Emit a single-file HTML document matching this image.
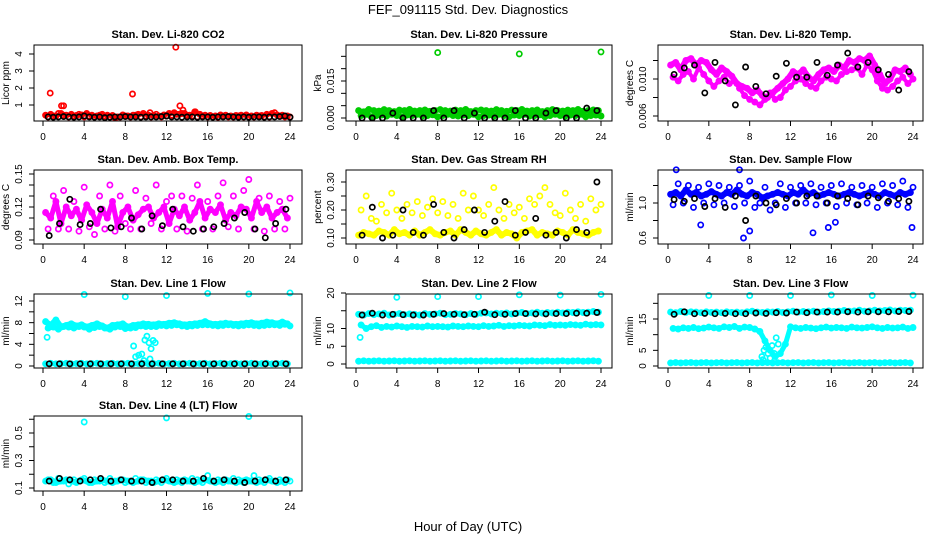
<!DOCTYPE html>
<html><head><meta charset="utf-8"><style>
body{margin:0;background:#fff;}
svg{display:block;font-family:"Liberation Sans",sans-serif;}
</style></head><body>
<svg id="c" width="936" height="540" viewBox="0 0 936 540">
<text x="468" y="14" text-anchor="middle" font-size="13">FEF_091115  Std. Dev. Diagnostics</text>
<text x="468" y="531" text-anchor="middle" font-size="13">Hour of Day (UTC)</text>
</svg>
<script>
const H48=[0.25,0.75,1.25,1.75,2.25,2.75,3.25,3.75,4.25,4.75,5.25,5.75,6.25,6.75,7.25,7.75,8.25,8.75,9.25,9.75,10.25,10.75,11.25,11.75,12.25,12.75,13.25,13.75,14.25,14.75,15.25,15.75,16.25,16.75,17.25,17.75,18.25,18.75,19.25,19.75,20.25,20.75,21.25,21.75,22.25,22.75,23.25,23.75];
const H48b=[0.5,1,1.5,2,2.5,3,3.5,4,4.5,5,5.5,6,6.5,7,7.5,8,8.5,9,9.5,10,10.5,11,11.5,12,12.5,13,13.5,14,14.5,15,15.5,16,16.5,17,17.5,18,18.5,19,19.5,20,20.5,21,21.5,22,22.5,23,23.5,24];
const H24=[0.6,1.6,2.6,3.6,4.6,5.6,6.6,7.6,8.6,9.6,10.6,11.6,12.6,13.6,14.6,15.6,16.6,17.6,18.6,19.6,20.6,21.6,22.6,23.6];
// CO2
const co2A=[0.4,0.45,0.35,0.5,0.4,0.45,0.38,0.42,0.5,0.4,0.35,0.45,0.4,0.38,0.3,0.42,0.35,0.4,0.45,0.5,0.4,0.38,0.35,0.42,0.5,0.55,0.45,0.5,0.4,0.6,0.45,0.4,0.38,0.35,0.42,0.4,0.35,0.38,0.4,0.42,0.35,0.4,0.38,0.45,0.5,0.42,0.4,0.35];
const co2B=[0.3,0.35,0.5,0.4,0.3,0.35,0.45,0.3,0.35,0.3,0.4,0.35,0.3,0.25,0.3,0.35,0.3,0.4,0.3,0.35,0.3,0.45,0.3,0.35,0.4,0.45,0.5,0.4,0.35,0.3,0.35,0.3,0.3,0.28,0.35,0.3,0.3,0.35,0.3,0.3,0.3,0.35,0.3,0.3,0.55,0.35,0.3,0.3];
const co2K=[0.3,0.28,0.3,0.32,0.3,0.28,0.3,0.35,0.3,0.28,0.3,0.26,0.28,0.3,0.3,0.32,0.3,0.3,0.28,0.3,0.3,0.3,0.32,0.35,0.3,0.3,0.28,0.3,0.3,0.28,0.3,0.3,0.28,0.3,0.3,0.32,0.3,0.28,0.3,0.28,0.3,0.3,0.28,0.3,0.3,0.32,0.35,0.28];
const co2OutX=[0.7,1.8,2.0,8.7,12.9,13.3,13.6,14.8,10.4];
const co2OutY=[1.7,0.95,0.95,1.65,4.4,0.95,0.7,0.6,0.55];
// Pressure
const prA=[0.003,0.0025,0.0035,0.003,0.0028,0.0034,0.003,0.0026,0.0032,0.003,0.0035,0.0028,0.003,0.0033,0.0027,0.003,0.0034,0.003,0.0028,0.0032,0.003,0.0035,0.0026,0.003,0.0033,0.003,0.0028,0.0034,0.003,0.0027,0.0032,0.003,0.0035,0.0028,0.003,0.0033,0.0026,0.003,0.0034,0.003,0.0028,0.0032,0.003,0.0035,0.0027,0.003,0.0033,0.003];
const prB=[0.001,0.0015,0.0005,0.001,0.0012,0.0008,0.0015,0.001,0.0005,0.0012,0.001,0.0015,0.0008,0.001,0.0013,0.0005,0.001,0.0015,0.001,0.0008,0.0012,0.001,0.0015,0.0005,0.001,0.0012,0.0008,0.0015,0.001,0.0005,0.0012,0.001,0.0015,0.0008,0.001,0.0013,0.0005,0.001,0.0015,0.001,0.0008,0.0012,0.001,0.0015,0.0005,0.001,0.0012,0.0008];
const prC=[0.002,0.0022,0.0018,0.002,0.0024,0.002,0.0018,0.0022,0.002,0.0019,0.0021,0.002,0.0023,0.0018,0.002,0.0022,0.002,0.0019,0.0021,0.002,0.0024,0.0018,0.002,0.0022];
const prK=[0.000,0.000,0.000,0.002,0.000,0.000,0.000,0.003,0.000,0.003,0.000,0.002,0.000,0.000,0.000,0.003,0.000,0.000,0.002,0.003,0.000,0.000,0.004,0.003];
const prOutX=[8,16,24];
const prOutY=[0.0265,0.026,0.0268];
// Li-820 temp
const tpA=[0.0115,0.0118,0.011,0.012,0.0122,0.0115,0.012,0.0118,0.011,0.0105,0.0112,0.0108,0.0103,0.0095,0.0092,0.009,0.0085,0.0088,0.0082,0.008,0.0085,0.009,0.0095,0.01,0.0108,0.0105,0.011,0.0102,0.0098,0.0105,0.011,0.0112,0.0108,0.0115,0.0112,0.012,0.0118,0.0122,0.012,0.0125,0.0115,0.0105,0.0095,0.01,0.011,0.0108,0.0112,0.0105];
const tpB=[0.0102,0.0098,0.0105,0.0108,0.01,0.0112,0.0105,0.0098,0.0092,0.0098,0.0102,0.0095,0.0098,0.009,0.0082,0.0078,0.0075,0.0072,0.0078,0.0085,0.0078,0.008,0.0088,0.0092,0.0098,0.01,0.0095,0.0092,0.009,0.0098,0.0102,0.01,0.0098,0.0105,0.0108,0.011,0.0112,0.0105,0.0115,0.011,0.0098,0.009,0.0088,0.0092,0.0098,0.0102,0.0095,0.01];
const tpK=[0.0105,0.0112,0.0115,0.0085,0.0118,0.0098,0.0072,0.0113,0.0092,0.0084,0.0103,0.0117,0.0102,0.0102,0.0118,0.0104,0.0115,0.0128,0.0113,0.0118,0.011,0.0105,0.0088,0.0108];
// Amb box temp
const abA=[0.115,0.11,0.125,0.105,0.12,0.112,0.118,0.108,0.122,0.115,0.105,0.118,0.11,0.125,0.102,0.115,0.12,0.108,0.113,0.118,0.12,0.11,0.115,0.12,0.105,0.118,0.112,0.12,0.108,0.115,0.125,0.11,0.118,0.115,0.122,0.108,0.115,0.112,0.12,0.118,0.11,0.125,0.115,0.12,0.11,0.115,0.118,0.11];
const abB=[0.1,0.13,0.1,0.135,0.1,0.125,0.098,0.138,0.102,0.095,0.13,0.1,0.14,0.098,0.13,0.105,0.1,0.135,0.1,0.128,0.105,0.14,0.1,0.125,0.13,0.1,0.13,0.098,0.128,0.14,0.1,0.125,0.1,0.13,0.142,0.102,0.13,0.1,0.135,0.145,0.1,0.128,0.098,0.13,0.1,0.125,0.1,0.128];
const abK=[0.094,0.105,0.127,0.104,0.105,0.118,0.101,0.102,0.11,0.1,0.112,0.103,0.118,0.102,0.098,0.1,0.102,0.105,0.11,0.115,0.1,0.092,0.105,0.118];
// Gas stream RH
const rhA=[0.11,0.12,0.115,0.11,0.125,0.12,0.11,0.13,0.115,0.12,0.11,0.125,0.11,0.12,0.13,0.115,0.11,0.12,0.125,0.11,0.13,0.12,0.11,0.125,0.115,0.11,0.12,0.13,0.11,0.12,0.115,0.1,0.12,0.125,0.13,0.11,0.12,0.115,0.11,0.125,0.12,0.11,0.13,0.12,0.115,0.11,0.12,0.125];
const rhB=[0.2,0.25,0.17,0.16,0.22,0.19,0.26,0.2,0.17,0.22,0.19,0.23,0.18,0.21,0.24,0.19,0.23,0.18,0.22,0.17,0.26,0.2,0.25,0.2,0.18,0.22,0.28,0.2,0.17,0.22,0.19,0.21,0.17,0.24,0.22,0.25,0.28,0.22,0.19,0.18,0.26,0.2,0.17,0.22,0.16,0.24,0.2,0.22];
const rhK=[0.11,0.21,0.1,0.11,0.2,0.12,0.11,0.22,0.12,0.1,0.13,0.2,0.12,0.16,0.23,0.11,0.12,0.17,0.11,0.12,0.1,0.13,0.12,0.3];
// Sample flow
const sfA=[1.1,1.12,1.08,1.15,1.1,1.12,1.08,1.1,1.13,1.1,1.08,1.12,1.1,1.15,1.1,1.08,1.12,1.1,1.06,1.08,1.1,1.12,1.1,1.08,1.12,1.1,1.15,1.1,1.12,1.08,1.1,1.12,1.1,1.08,1.1,1.12,1.1,1.08,1.1,1.12,1.1,1.08,1.12,1.1,1.08,1.12,1.1,1.12];
const sfB=[0.98,1.22,1.0,1.2,0.95,1.18,1.0,1.22,0.98,1.2,1.0,1.18,0.96,1.2,1.0,1.25,0.95,1.0,1.18,0.92,1.0,1.22,0.95,1.18,1.0,1.2,1.0,1.22,0.98,1.18,1.0,1.2,0.96,1.22,1.0,1.18,0.98,1.2,1.0,1.18,0.95,1.22,1.0,1.2,0.98,1.25,0.95,1.18];
const sfK=[1.04,1.02,1.05,0.96,1.05,0.95,1.08,0.8,1.08,1.0,0.98,1.05,1.0,1.08,1.08,1.0,1.08,1.05,0.98,1.08,1.06,1.02,1.05,1.02];
const sfOutX=[0.8,3.2,7.4,7.0,8.0,14.2,15.7,16.4,23.9];
const sfOutY=[1.38,0.75,0.6,1.38,0.68,0.66,0.72,0.78,0.72];
// Line 1 flow
const l1A=[8.2,7.5,8.5,7.2,7.5,7.8,7.4,7.6,7.2,7.5,7.8,7.4,7.0,7.5,7.6,7.8,7.2,7.5,7.6,7.8,7.7,7.6,7.8,7.7,7.9,8.0,7.8,7.6,7.7,7.8,7.9,8.2,7.8,7.7,7.8,7.9,7.8,7.7,7.8,7.9,8.0,7.8,7.9,8.1,8.0,7.8,8.1,7.8];
const l1B=[7.0,7.2,6.8,7.3,7.2,7.0,7.3,7.2,6.8,7.1,7.3,7.0,6.8,7.2,7.3,6.9,7.0,7.1,7.4,7.3,7.3,7.3,7.5,7.4,7.5,7.6,7.4,7.3,7.4,7.5,7.6,7.6,7.5,7.4,7.5,7.6,7.5,7.4,7.5,7.6,7.5,7.4,7.5,7.6,7.6,7.5,7.7,7.4];
const l1C=[0.4,0.5,0.4,0.45,0.5,0.4,0.45,0.5,0.4,0.45,0.5,0.4,0.45,0.5,0.4,0.45,0.5,0.4,0.45,0.5,0.4,0.45,0.5,0.4,0.45,0.5,0.4,0.45,0.5,0.4,0.45,0.5,0.4,0.45,0.5,0.4,0.45,0.5,0.4,0.45,0.5,0.4,0.45,0.5,0.4,0.45,0.5,0.4];
const l1K=[0.4,0.4,0.4,0.4,0.4,0.4,0.4,0.4,0.4,0.4,0.4,0.4,0.4,0.4,0.4,0.4,0.4,0.4,0.4,0.4,0.4,0.4,0.4,0.4];
const l1OutX=[4,8,12,16,20,24,0.4,8.8,9.0,9.3,9.6,9.9,10.1,10.3,10.5,10.7,10.9,10.4,9.8];
const l1OutY=[13.2,12.8,13.0,13.4,13.3,13.5,5.3,3.7,1.7,2.0,2.2,4.8,5.5,4.3,3.2,4.7,4.3,1.3,1.0];
// Line 2 flow
const l2A=[14,13.8,14.2,13.9,14.1,14.3,13.8,14,14.2,13.9,14.1,14,13.8,14.2,14,14.1,14.3,13.9,14,14.2,14.1,13.9,14.2,14,14.3,14.4,14.1,14.3,14.2,14.4,14.1,14.3,14.5,14.2,14.4,14.6,14.3,14.5,14.4,14.6,14.4,14.6,14.5,14.7,14.5,14.6,14.8,14.6];
const l2B=[11,10,10.5,10.8,10.3,10.6,10.4,10.7,10.5,10.3,10.6,10.5,10.4,10.7,10.5,10.6,10.5,10.4,10.7,10.6,10.5,10.7,10.6,10.5,10.8,10.6,10.7,10.9,10.6,10.8,10.7,10.9,10.8,10.7,11,10.9,10.8,11.1,10.9,11,10.9,11.1,11,10.9,11.2,11,11.1,11];
const l2C=[0.8,0.9,0.8,0.85,0.9,0.8,0.85,0.9,0.8,0.85,0.9,0.8,0.85,0.9,0.8,0.85,0.9,0.8,0.85,0.9,0.8,0.85,0.9,0.8,0.85,0.9,0.8,0.85,0.9,0.8,0.85,0.9,0.8,0.85,0.9,0.8,0.85,0.9,0.8,0.85,0.9,0.8,0.85,0.9,0.8,0.85,0.9,0.8];
const l2K=[13.8,14.3,13.8,14,13.9,13.8,13.8,14,14.2,14,13.9,14,14.6,13.9,14,14.2,14.2,14.1,14.1,14.2,14.2,14.3,14.3,14.5];
const l2OutX=[4,8,12,16,20,24,0.4];
const l2OutY=[18.8,19.0,19.0,19.5,19.4,19.6,7.5];
// Line 3 flow
const l3A=[17.2,17,17.4,17.1,17.3,17.2,17,17.3,17.1,17.2,17,17.3,17.1,17.2,17,17.3,17.5,17.2,17.1,17.3,17.2,17.4,17.1,17.3,17.5,17.2,17.4,17.3,17.5,17.2,17.4,17.6,17.4,17.5,17.7,17.5,17.6,17.8,17.5,17.6,17.8,17.6,17.7,17.9,17.6,17.8,17.7,17.8];
const l3B=[12,11.8,12.2,12,12.3,11.9,12.1,12.4,12.2,12,12.5,12.3,12.6,12,12.4,12.3,11.8,11,8,5,3,4,7,12.5,12.2,12,12.3,12.1,11.9,12.2,12.4,12.1,12.3,12.2,12,12.4,12.2,12.1,12.3,12.5,12.2,12,12.3,12.1,12.2,12.4,12,12.3];
const l3C=[1,1.1,1,1.05,1.1,1,1.05,1.1,1,1.05,1.1,1,1.05,1.1,1,1.05,1.1,1,1.05,1.1,1,1.05,1.1,1,1.05,1.1,1,1.05,1.1,1,1.05,1.1,1,1.05,1.1,1,1.05,1.1,1,1.05,1.1,1,1.05,1.1,1,1.05,1.1,1];
const l3K=[16.5,17.3,16.7,16.8,16.7,16.8,16.7,16.7,16.9,16.8,17,16.9,17.2,17,17.2,17.2,17.2,17.3,17.2,17.3,17.3,17.3,17.4,17.4];
const l3OutX=[4,8,12,16,20,24,9.2,9.4,9.6,9.8,10.0,10.2,10.6,10.8,9.3,10.4];
const l3OutY=[22.5,22.5,22.5,22.7,22.5,22.6,3,5,6,4,2.5,6.5,9,7,2,4];
// Line 4 flow
const l4A=[0.15,0.16,0.14,0.15,0.16,0.15,0.14,0.16,0.15,0.14,0.15,0.16,0.15,0.14,0.15,0.16,0.15,0.14,0.15,0.16,0.15,0.14,0.15,0.16,0.15,0.14,0.15,0.16,0.15,0.14,0.15,0.16,0.15,0.14,0.15,0.16,0.15,0.14,0.15,0.16,0.15,0.14,0.15,0.16,0.15,0.14,0.15,0.16];
const l4B=[0.16,0.14,0.17,0.15,0.13,0.16,0.15,0.17,0.14,0.16,0.15,0.14,0.17,0.15,0.16,0.14,0.15,0.17,0.16,0.14,0.15,0.16,0.14,0.17,0.15,0.16,0.14,0.15,0.17,0.16,0.14,0.19,0.15,0.16,0.14,0.15,0.17,0.16,0.14,0.15,0.19,0.16,0.14,0.17,0.15,0.16,0.14,0.15];
const l4K=[0.15,0.17,0.16,0.15,0.16,0.17,0.15,0.16,0.15,0.15,0.14,0.16,0.16,0.15,0.15,0.17,0.15,0.16,0.15,0.14,0.15,0.16,0.15,0.16];
const l4OutX=[4,12,20];
const l4OutY=[0.58,0.61,0.62];

const svg=document.getElementById('c');
const NS='http://www.w3.org/2000/svg';
function mk(tag,attrs,parent){const e=document.createElementNS(NS,tag);for(const k in attrs)e.setAttribute(k,attrs[k]);(parent||svg).appendChild(e);return e;}

const cols=[{l:34,r:302,x0:43,x24:290},{l:346,r:612,x0:356,x24:601},{l:658,r:923,x0:668,x24:913}];
const rows=[{t:45,b:121},{t:170,b:244},{t:294,b:368},{t:416,b:491}];
const CY='#00ffff';
// series: [color, x, y, bandWidth]
const panels=[
 {name:'co2',title:'Stan. Dev. Li-820 CO2',ylab:'Licor ppm',c:0,r:0,v1:1,p1:105,v2:4,p2:54,ticks:[1,2,3,4],labels:['1','2','3','4'],
  series:[['#ff0000',H48,co2A,4],['#ff0000',H48b,co2B,0],['#ff0000',co2OutX,co2OutY,0],['#000',H48b,co2K,0]]},
 {name:'pressure',title:'Stan. Dev. Li-820 Pressure',ylab:'kPa',c:1,r:0,v1:0,p1:118,v2:0.015,p2:81,ticks:[0,0.005,0.01,0.015,0.02,0.025],labels:['0.000','','','0.015','',''],
  series:[['#00cc00',H48,prA,5],['#00cc00',H48b,prB,5],['#00cc00',H24,prC,0],['#00cc00',prOutX,prOutY,0],['#000',H24,prK,0]]},
 {name:'li820-temp',title:'Stan. Dev. Li-820 Temp.',ylab:'degrees C',c:2,r:0,v1:0.006,p1:116,v2:0.01,p2:79,ticks:[0.006,0.008,0.01,0.012],labels:['0.006','','0.010',''],
  series:[['#ff00ff',H48,tpA,6],['#ff00ff',H48b,tpB,4],['#000',H24,tpK,0]]},
 {name:'amb-box-temp',title:'Stan. Dev. Amb. Box Temp.',ylab:'degrees C',c:0,r:1,v1:0.09,p1:240,v2:0.15,p2:174,ticks:[0.09,0.1,0.11,0.12,0.13,0.14,0.15],labels:['0.09','','','0.12','','','0.15'],
  series:[['#ff00ff',H48,abA,5],['#ff00ff',H48b,abB,0],['#000',H24,abK,0]]},
 {name:'gas-stream-rh',title:'Stan. Dev. Gas Stream RH',ylab:'percent',c:1,r:1,v1:0.1,p1:238,v2:0.3,p2:182,ticks:[0.1,0.15,0.2,0.25,0.3],labels:['0.10','','0.20','','0.30'],
  series:[['#ffff00',H48,rhA,6],['#ffff00',H48b,rhB,0],['#000',H24,rhK,0]]},
 {name:'sample-flow',title:'Stan. Dev. Sample Flow',ylab:'ml/min',c:2,r:1,v1:0.6,p1:238,v2:1.0,p2:203,ticks:[0.6,0.8,1.0,1.2],labels:['0.6','','1.0',''],
  series:[['#0000ff',H48,sfA,6],['#0000ff',H48b,sfB,0],['#0000ff',sfOutX,sfOutY,0],['#000',H24,sfK,0]]},
 {name:'line1-flow',title:'Stan. Dev. Line 1 Flow',ylab:'ml/min',c:0,r:2,v1:0,p1:366,v2:12,p2:301,ticks:[0,2,4,6,8,10,12,14],labels:['0','','4','','8','','12',''],
  series:[[CY,H48,l1A,6],[CY,H48b,l1B,5],[CY,H48,l1C,5],[CY,l1OutX,l1OutY,0],['#000',H24,l1K,0]]},
 {name:'line2-flow',title:'Stan. Dev. Line 2 Flow',ylab:'ml/min',c:1,r:2,v1:0,p1:364,v2:20,p2:293,ticks:[0,5,10,15,20],labels:['0','5','10','','20'],
  series:[[CY,H48,l2A,5],[CY,H48b,l2B,5],[CY,H48,l2C,5],[CY,l2OutX,l2OutY,0],['#000',H24,l2K,0]]},
 {name:'line3-flow',title:'Stan. Dev. Line 3 Flow',ylab:'ml/min',c:2,r:2,v1:0,p1:366,v2:15,p2:319,ticks:[0,5,10,15,20],labels:['0','5','','15',''],
  series:[[CY,H48,l3A,5],[CY,H48b,l3B,5],[CY,H48,l3C,5],[CY,l3OutX,l3OutY,0],['#000',H24,l3K,0]]},
 {name:'line4-flow',title:'Stan. Dev. Line 4 (LT) Flow',ylab:'ml/min',c:0,r:3,v1:0.1,p1:488,v2:0.5,p2:433,ticks:[0.1,0.2,0.3,0.4,0.5,0.6],labels:['0.1','','0.3','','0.5',''],
  series:[[CY,H48,l4A,6],[CY,H48b,l4B,0],[CY,l4OutX,l4OutY,0],['#000',H24,l4K,0]]}
];
const xTicks=[0,4,8,12,16,20,24];

panels.forEach(p=>{
  const C=cols[p.c],R=rows[p.r];
  const g=mk('g',{});
  
  
  const xs=h=>C.x0+(C.x24-C.x0)*h/24;
  const ys=v=>p.p1+(p.p2-p.p1)*(v-p.v1)/(p.v2-p.v1);
  const t=mk('text',{x:(C.l+C.r)/2,y:R.t-7,'text-anchor':'middle','font-size':11,'font-weight':'bold'},g);
  t.textContent=p.title;
  
  
  p.series.forEach((s,si)=>{
    const sg=mk('g',{fill:'none',stroke:s[0],'stroke-width':1.7},g);
    
    
    if(s[3]>0){
      const d=s[1].map((h,i)=>(i?'L':'M')+xs(h).toFixed(1)+','+ys(s[2][i]).toFixed(1)).join('');
      const band=mk('path',{d:d,'stroke-width':s[3],'stroke-linejoin':'round','stroke-linecap':'round'},sg);
      
      
    }
    s[1].forEach((h,i)=>{
      const cy=ys(s[2][i]);
      if(cy<R.t-3||cy>R.b+3)return;
      const c=mk('circle',{cx:xs(h).toFixed(1),cy:cy.toFixed(1),r:2.6},sg);
      
      
    });
  });
  const box=mk('rect',{x:C.l,y:R.t,width:C.r-C.l,height:R.b-R.t,fill:'none',stroke:'#000','stroke-width':1},g);
  
  
  xTicks.forEach(h=>{
    const x=xs(h);
    mk('line',{x1:x,x2:x,y1:R.b,y2:R.b+5,stroke:'#000'},g);
    const tl=mk('text',{x:x,y:R.b+19,'text-anchor':'middle','font-size':10},g);
    tl.textContent=h;
    
    
  });
  p.ticks.forEach((v,i)=>{
    const y=ys(v);
    if(y<R.t-1||y>R.b+1)return;
    mk('line',{x1:C.l-5,x2:C.l,y1:y,y2:y,stroke:'#000'},g);
    if(p.labels[i]){
      const tl=mk('text',{x:C.l-12,y:y,'text-anchor':'middle','font-size':10,transform:`rotate(-90 ${C.l-12} ${y})`},g);
      tl.textContent=p.labels[i];
      
      
    }
  });
  const yl=(R.t+R.b)/2;
  const yt=mk('text',{x:C.l-25,y:yl,'text-anchor':'middle','font-size':10,transform:`rotate(-90 ${C.l-25} ${yl})`},g);
  yt.textContent=p.ylab;
  
  
});
</script>
</body></html>
